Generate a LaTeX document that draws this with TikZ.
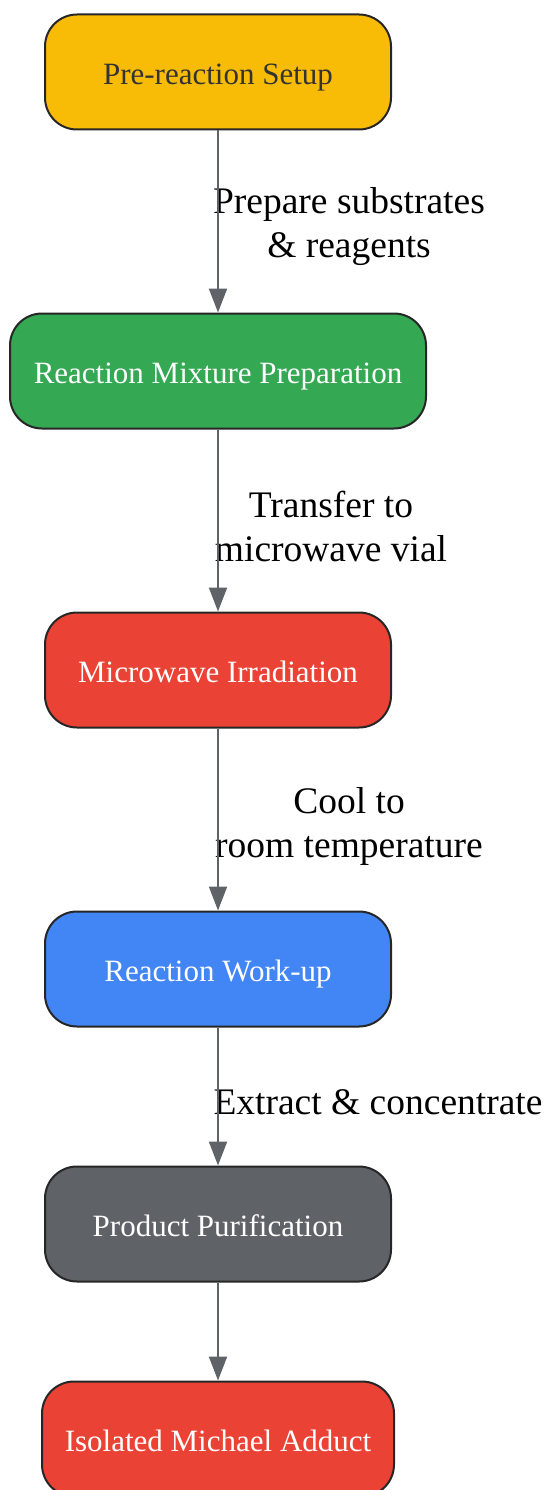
\documentclass[tikz,border=0pt]{standalone}
\usepackage{fontspec}
\setmainfont{Liberation Serif}
\usetikzlibrary{arrows.meta,positioning}
\definecolor{stepyellow}{HTML}{F9BC06}
\definecolor{stepgreen}{HTML}{34A853}
\definecolor{stepred}{HTML}{EA4335}
\definecolor{stepblue}{HTML}{4285F4}
\definecolor{stepgrey}{HTML}{5F6368}
\definecolor{linegrey}{HTML}{5F6368}

\begin{document}
\begin{tikzpicture}[x=1pt,y=-1pt,
  stepbox/.style={rectangle,rounded corners=32pt,draw=black!85,line width=2pt,
    minimum width=346pt,minimum height=115pt,inner sep=0pt,text=white,
    text height=25pt,text depth=0pt,font=\fontsize{31}{35}\selectfont},
  lbl/.style={align=center,inner sep=0pt,font=\fontsize{37.5}{44}\selectfont},
  link/.style={->,draw=linegrey,line width=2pt},
  >={Triangle[length=24pt,width=18pt]}]
  \useasboundingbox (0,0) rectangle (546,1490);
  % stappen
  \node[stepbox,fill=stepyellow,text=black!80] (s1) at (218,72) {Pre-reaction Setup};
  \node[stepbox,fill=stepgreen,minimum width=416pt] (s2) at (218,371) {Reaction Mixture Preparation};
  \node[stepbox,fill=stepred] (s3) at (218,670) {Microwave Irradiation};
  \node[stepbox,fill=stepblue] (s4) at (218,969) {Reaction Work-up};
  \node[stepbox,fill=stepgrey] (s5) at (218,1224) {Product Purification};
  \node[stepbox,fill=stepred,minimum width=352pt] (s6) at (218,1439) {Isolated Michael Adduct};
  % labels
  \node[lbl] (l1) at (349,227) {Prepare substrates\\\& reagents};
  \node[lbl] (l2) at (331,526) {Transfer to\\microwave vial};
  \node[lbl] (l3) at (349,826) {Cool to\\room temperature};
  \node[lbl] (l4) at (378,1102) {Extract \& concentrate};
  % pijlen
  \foreach \a/\b in {s1/s2,s2/s3,s3/s4,s4/s5,s5/s6} \draw[link] (\a) -- (\b);
\end{tikzpicture}
\end{document}
